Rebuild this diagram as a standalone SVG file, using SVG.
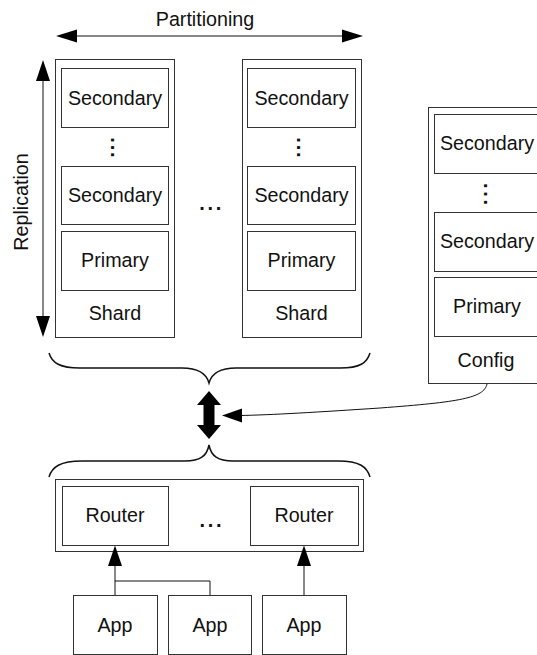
<svg xmlns="http://www.w3.org/2000/svg" width="537" height="655" viewBox="0 0 537 655">
<style>
  .box { fill: #fff; stroke: #333; stroke-width: 1; }
  .outer { fill: #fff; stroke: #333; stroke-width: 1; }
  .t { font-family: "Liberation Sans", Arial, sans-serif; font-size: 19.7px; fill: #111; text-anchor: middle; }
  .dots { font-family: "Liberation Sans", Arial, sans-serif; font-size: 20px; font-weight: bold; fill: #111; }
  .line { fill: none; stroke: #111; stroke-width: 1; }
  .brace { fill: none; stroke: #111; stroke-width: 1.5; }
  .head { fill: #000; stroke: none; }
</style>
<rect width="537" height="655" fill="#fff"/>

<g id="partitioning">
  <line class="line" x1="76" y1="36" x2="343" y2="36"/>
  <polygon class="head" points="56,36 77,29.5 77,42.5"/>
  <polygon class="head" points="363,36 342,29.5 342,42.5"/>
  <text class="t" x="205" y="26">Partitioning</text>
</g>

<g id="replication">
  <line class="line" x1="43" y1="80" x2="43" y2="317"/>
  <polygon class="head" points="43,60 36,81 50,81"/>
  <polygon class="head" points="43,337 36,316 50,316"/>
  <text class="t" transform="translate(28,202) rotate(-90)" x="0" y="0">Replication</text>
</g>

<g id="shard1">
  <rect class="outer" x="55.5" y="59.5" width="119" height="278"/>
  <rect class="box" x="61.5" y="68.5" width="107" height="59"/>
  <text class="t" x="115" y="104.5">Secondary</text>
  <text class="dots" transform="translate(110.6,137.2) rotate(90)" letter-spacing="1.9">...</text>
  <rect class="box" x="61.5" y="166.5" width="107" height="58"/>
  <text class="t" x="115" y="202">Secondary</text>
  <rect class="box" x="61.5" y="231.5" width="107" height="59"/>
  <text class="t" x="115" y="267">Primary</text>
  <text class="t" x="115" y="320">Shard</text>
</g>

<g id="shard-ellipsis">
  <text class="dots" x="199.2" y="210.4" letter-spacing="2.7">...</text>
</g>

<g id="shard2">
  <rect class="outer" x="242.5" y="59.5" width="119" height="278"/>
  <rect class="box" x="247.5" y="68.5" width="108" height="59"/>
  <text class="t" x="301.5" y="104.5">Secondary</text>
  <text class="dots" transform="translate(297.3,137.2) rotate(90)" letter-spacing="1.9">...</text>
  <rect class="box" x="247.5" y="166.5" width="108" height="58"/>
  <text class="t" x="301.5" y="202">Secondary</text>
  <rect class="box" x="247.5" y="231.5" width="108" height="59"/>
  <text class="t" x="301.5" y="267">Primary</text>
  <text class="t" x="301.5" y="320">Shard</text>
</g>

<g id="config">
  <rect class="outer" x="428.5" y="107.5" width="120" height="276"/>
  <rect class="box" x="434.5" y="114.5" width="106" height="59"/>
  <text class="t" x="487" y="150">Secondary</text>
  <text class="dots" transform="translate(484.3,182.9) rotate(90)" letter-spacing="2.7">...</text>
  <rect class="box" x="434.5" y="212.5" width="106" height="59"/>
  <text class="t" x="487" y="248">Secondary</text>
  <rect class="box" x="434.5" y="277.5" width="106" height="59"/>
  <text class="t" x="487" y="313">Primary</text>
  <text class="t" x="486" y="367">Config</text>
</g>

<g id="routers">
  <rect class="outer" x="55.5" y="479.5" width="308" height="72"/>
  <rect class="box" x="62.5" y="486.5" width="106" height="59"/>
  <text class="t" x="115" y="522">Router</text>
  <text class="dots" x="199.5" y="527" letter-spacing="2.7">...</text>
  <rect class="box" x="250.5" y="486.5" width="108" height="59"/>
  <text class="t" x="304" y="522">Router</text>
</g>

<g id="app1">
  <rect class="box" x="73.5" y="595.5" width="84" height="59"/>
  <text class="t" x="115" y="632">App</text>
</g>
<g id="app2">
  <rect class="box" x="168.5" y="595.5" width="83" height="59"/>
  <text class="t" x="210" y="632">App</text>
</g>
<g id="app3">
  <rect class="box" x="262.5" y="595.5" width="84" height="59"/>
  <text class="t" x="304" y="632">App</text>
</g>

<g id="connectors">
  <path class="brace" d="M49,353 C52,363 60,368 80,368 L182,368 C197,368 206,372 209,383 C212,372 221,368 236,368 L340,368 C360,368 367,363 370,353"/>
  <path class="brace" d="M49,477 C52,467 60,461 82,461 L185,461 C200,461 207,456 209,445 C211,456 218,461 233,461 L338,461 C360,461 367,467 370,477"/>
  <polygon class="head" points="209,391 221,405 214.5,405 214.5,425 221,425 209,439 197,425 203.5,425 203.5,405 197,405"/>
  <path class="line" d="M487,384 C484,398 460,402 380,408 C320,412 270,415 240,415.5"/>
  <polygon class="head" points="222,415.5 242,408.5 242,422.5"/>
  <path class="line" d="M115,595 L115,565 M115,581 L210,581 L210,595"/>
  <polygon class="head" points="115,545.5 108,566 122,566"/>
  <line class="line" x1="304" y1="595" x2="304" y2="565"/>
  <polygon class="head" points="304,545.5 297,566 311,566"/>
</g>
</svg>
